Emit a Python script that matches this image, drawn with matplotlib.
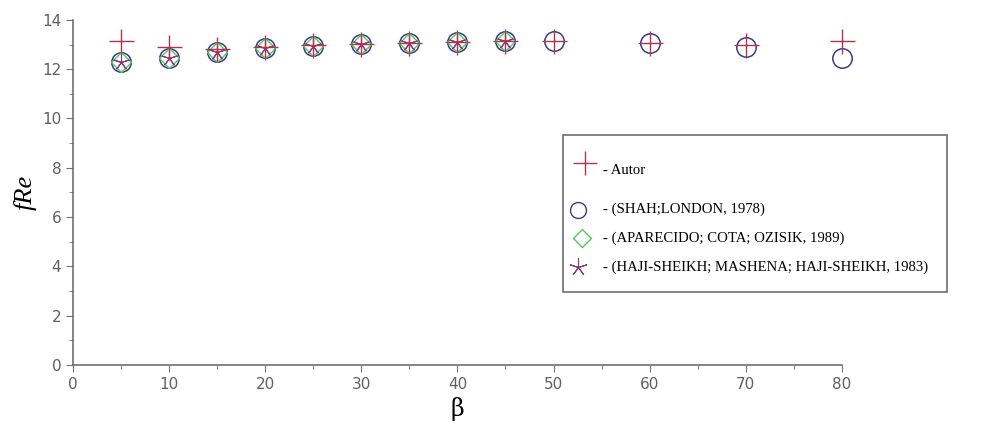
import numpy as np
import matplotlib.pyplot as plt
from matplotlib.lines import Line2D
from matplotlib.patches import Rectangle

# data
beta_autor = [5, 10, 15, 20, 25, 30, 35, 40, 45, 50, 60, 70, 80]
fre_autor = [13.15, 12.88, 12.82, 12.88, 12.97, 13.03, 13.07, 13.12, 13.13, 13.13, 13.07, 13.0, 13.13]

beta_shah = [5, 10, 15, 20, 25, 30, 35, 40, 45, 50, 60, 70, 80]
fre_shah = [12.3, 12.47, 12.68, 12.85, 12.96, 13.03, 13.08, 13.12, 13.13, 13.13, 13.06, 12.88, 12.45]

beta_apar = [5, 10, 15, 20, 25, 30, 35, 40, 45]
fre_apar = [12.3, 12.47, 12.68, 12.85, 12.96, 13.03, 13.08, 13.12, 13.13]

beta_haji = [5, 10, 15, 20, 25, 30, 35, 40, 45]
fre_haji = [12.3, 12.47, 12.68, 12.85, 12.96, 13.03, 13.08, 13.12, 13.13]

labels = ['- Autor',
          '- (SHAH;LONDON, 1978)',
          '- (APARECIDO; COTA; OZISIK, 1989)',
          '- (HAJI-SHEIKH; MASHENA; HAJI-SHEIKH, 1983)']

c_autor = '#b8304a'
c_shah = '#3a3a8c'
c_apar = '#4ccd5a'
c_haji = '#8a3a7a'
star = (5, 2, 0)

W, H = 988, 432
fig = plt.figure(figsize=(W / 100, H / 100), dpi=100)
ax = fig.add_axes([0.074, 0.155, 0.778, 0.799])

ax.plot(beta_shah, fre_shah, ls='none', marker='o', ms=14, mfc='none', mec=c_shah, mew=1.1, clip_on=False)
ax.plot(beta_apar, fre_apar, ls='none', marker='D', ms=10, mfc='none', mec=c_apar, mew=1.0, clip_on=False)
ax.plot(beta_haji, fre_haji, ls='none', marker=star, ms=12, mec=c_haji, mew=0.8, clip_on=False)
ax.plot(beta_autor, fre_autor, ls='none', marker='+', ms=18, mec=c_autor, mew=1.0, clip_on=False)

ax.set_xlim(0, 80)
ax.set_ylim(0, 14)
ax.set_xticks(np.arange(0, 81, 10))
ax.set_xticks(np.arange(5, 80, 10), minor=True)
ax.set_yticks(np.arange(0, 15, 2))
ax.set_yticks(np.arange(1, 14, 2), minor=True)

for s in ['top', 'right']:
    ax.spines[s].set_visible(False)
for s in ['left', 'bottom']:
    ax.spines[s].set_color('#707070')
    ax.spines[s].set_linewidth(1.2)
ax.tick_params(which='major', direction='out', length=5, color='#707070', labelcolor='#606060', labelsize=11)
ax.tick_params(which='minor', direction='out', length=3, color='#707070')

ax.set_xlabel(r'β', family='DejaVu Serif', fontsize=17, labelpad=4)
ax.set_ylabel('fRe', family='Liberation Serif', style='italic', fontsize=19, labelpad=4)

# legend box drawn by hand (pixel layout of the original)
def fx(px):
    return px / W

def fy(py):
    return 1 - py / H

fig.add_artist(Rectangle((fx(563), fy(292)), fx(947) - fx(563), fy(135) - fy(292),
                         transform=fig.transFigure, fill=False, ec='#707070', lw=1.2))
handle_styles = [dict(marker='+', ms=17, mec=c_autor, mew=1.0),
                 dict(marker='o', ms=11.5, mfc='none', mec=c_shah, mew=1.0),
                 dict(marker='D', ms=9, mfc='none', mec=c_apar, mew=1.0),
                 dict(marker=star, ms=13, mec=c_haji, mew=0.8)]
marker_xy = [(585, 163), (578, 210), (582, 238), (578, 267)]
text_y = [170, 209, 238, 267]
for st, (mx, my), ty, lab in zip(handle_styles, marker_xy, text_y, labels):
    fig.add_artist(Line2D([fx(mx)], [fy(my)], ls='none', transform=fig.transFigure, **st))
    fig.text(fx(603), fy(ty), lab, family='Liberation Serif', fontsize=10.6, va='center', ha='left')

fig.savefig('out.png', dpi=100)
